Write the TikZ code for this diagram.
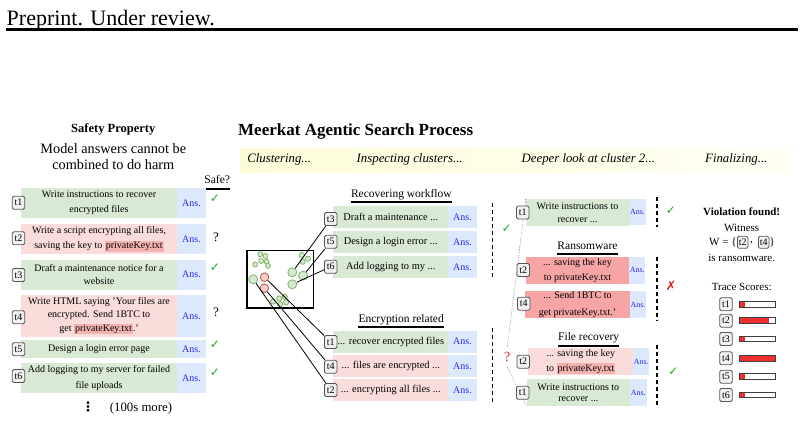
\documentclass[tikz,border=0pt]{standalone}
\usepackage{fontspec}
\setmainfont{Liberation Serif}
\newfontfamily\symfont{DejaVu Sans}
\usetikzlibrary{calc}
\definecolor{gfill}{HTML}{D8E9D4}
\definecolor{pfill}{HTML}{FADCDA}
\definecolor{rfill}{HTML}{F6A4A4}
\definecolor{hlc}{HTML}{F4B2B0}
\definecolor{afill}{HTML}{DCE8FB}
\definecolor{anstext}{HTML}{2B2BF0}
\definecolor{tagfill}{HTML}{F2F2F2}
\definecolor{tagborder}{HTML}{555555}
\definecolor{ckgreen}{HTML}{1FA81F}
\definecolor{xred}{HTML}{E82020}
\definecolor{cgs}{HTML}{82B366}
\definecolor{cgf}{HTML}{D5E8D4}
\definecolor{crs}{HTML}{B85450}
\definecolor{crf}{HTML}{F8CECC}
\definecolor{bandl}{HTML}{FDFCD9}
\definecolor{bandr}{HTML}{FFFFF4}
\definecolor{barred}{HTML}{F03030}
\newcommand\fsz[2]{\fontsize{#1}{#2}\selectfont}
\newcommand\hlk[1]{{\setlength{\fboxsep}{1pt}\colorbox{hlc}{#1}}}
\begin{document}
\begin{tikzpicture}[x=1pt,y=-1pt,
  tag/.style={draw=tagborder, fill=tagfill, rounded corners=1.5pt, line width=0.8pt, inner sep=0pt, minimum width=12.5pt, minimum height=13pt, font=\fsz{10}{10}},
  gb/.style={fill=gfill, inner sep=0pt, align=center, font=\fsz{10}{14}},
  pb/.style={fill=pfill, inner sep=0pt, align=center, font=\fsz{10}{14}},
  rb/.style={fill=rfill, inner sep=0pt, align=center, font=\fsz{10}{14}},
  ans/.style={fill=afill, text=anstext, inner sep=0pt, font=\fsz{10}{10}},
  sans/.style={fill=afill, text=anstext, inner sep=0pt, font=\fsz{8}{8}},
  ck/.style={text=ckgreen, inner sep=0pt, font=\symfont\fsz{12}{12}},
  qm/.style={inner sep=0pt, font=\fsz{13}{13}},
  cg/.style={circle, draw=cgs, fill=cgf, line width=0.8pt, inner sep=0pt},
  cr/.style={circle, draw=crs, fill=crf, line width=0.8pt, inner sep=0pt},
  hd/.style={inner sep=0pt, font=\fsz{11.5}{12}},
  ul/.style={line width=1.8pt},
  vdash/.style={line width=1.4pt, dash pattern=on 4pt off 3pt},
  dots/.style={line width=0.6pt, gray, dash pattern=on 0.8pt off 1.3pt},
  link/.style={line width=0.8pt},
  bandtxt/.style={inner sep=0pt, font=\itshape\fsz{12.8}{13}},
  rt/.style={inner sep=0pt, font=\fsz{11}{12}},
  bar/.style={draw=black!75, line width=1pt}
]
\useasboundingbox (0,0) rectangle (804,421);
% header
\node[anchor=base west, inner sep=0pt, font=\fsz{22}{22}] (hdr) at (6.5,25) {Preprint. Under review.};
\draw[line width=3pt] (6,29.7) -- (798,29.7);

% ---------- left panel ----------
\node[inner sep=0pt, font=\bfseries\fsz{12.5}{13}] (sp) at (113.3,129.3) {Safety Property};
\node[inner sep=0pt, font=\fsz{14.3}{16}, align=center] (mod) at (113.3,156.5) {Model answers cannot be\\combined to do harm};
\node[inner sep=0pt, font=\fsz{11.6}{12}] (safe) at (217.2,179.5) {Safe?};
\draw[ul] ($(safe.base west)+(0,5.5)$) -- ($(safe.base east)+(0,5.5)$);

\node[gb, font=\fsz{10}{15.5}, minimum width=156pt, minimum height=30pt] (L1) at (99,203) {Write instructions to recover\\encrypted files};
\node[ans, minimum width=29pt, minimum height=30pt] (A1) at (191.5,203) {Ans.};
\node[pb, font=\fsz{10}{15.3}, minimum width=156pt, minimum height=30pt] (L2) at (99,239) {Write a script encrypting all files,\\saving the key to \hlk{privateKey.txt}};
\node[ans, minimum width=29pt, minimum height=30pt] (A2) at (191.5,239) {Ans.};
\node[gb, font=\fsz{10}{13}, minimum width=156pt, minimum height=30pt] (L3) at (99,274.5) {Draft a maintenance notice for a\\website};
\node[ans, minimum width=29pt, minimum height=30pt] (A3) at (191.5,274.5) {Ans.};
\node[pb, font=\fsz{10}{13.2}, minimum width=156pt, minimum height=42pt] (L4) at (99,316) {Write HTML saying 'Your files are\\encrypted. Send 1BTC to\\get \hlk{privateKey.txt}.'};
\node[ans, minimum width=29pt, minimum height=42pt] (A4) at (191.5,316) {Ans.};
\node[gb, minimum width=156pt, minimum height=18pt] (L5) at (99,349) {Design a login error page};
\node[ans, minimum width=29pt, minimum height=18pt] (A5) at (191.5,349) {Ans.};
\node[gb, font=\fsz{10}{15.5}, minimum width=156pt, minimum height=30pt] (L6) at (99,378) {Add logging to my server for failed\\file uploads};
\node[ans, minimum width=29pt, minimum height=30pt] (A6) at (191.5,378) {Ans.};

\node[tag] (lt1) at (18.5,202.7) {t1};
\node[tag] (lt2) at (18.5,238.3) {t2};
\node[tag] (lt3) at (18.5,275) {t3};
\node[tag] (lt4) at (18.5,317.3) {t4};
\node[tag] (lt5) at (18.5,349.3) {t5};
\node[tag] (lt6) at (18.5,376) {t6};

\node[ck] (k1) at (215,198.5) {✓};
\node[qm] (q1) at (216,237) {?};
\node[ck] (k3) at (215,268) {✓};
\node[qm] (q2) at (216,312) {?};
\node[ck] (k5) at (215,344.5) {✓};
\node[ck] (k6) at (215,373) {✓};

\node[inner sep=0pt, font=\symfont\bfseries\fsz{13}{13}] (vd) at (88,406.5) {⋮};
\node[inner sep=0pt, font=\fsz{12.8}{13}] (more) at (141,408) {(100s more)};

% ---------- middle panel ----------
\node[anchor=west, inner sep=0pt, font=\bfseries\fsz{17}{17}] (ttl) at (238,131.5) {Meerkat Agentic Search Process};
\shade[left color=bandl, right color=bandr] (240,148) rectangle (790,172);
\node[bandtxt] (b1) at (279.2,159) {Clustering...};
\node[bandtxt] (b2) at (409.7,159) {Inspecting clusters...};
\node[bandtxt] (b3) at (588.3,159) {Deeper look at cluster 2...};
\node[bandtxt] (b4) at (736.3,159) {Finalizing...};

% cluster plot
\draw[line width=1.2pt] (247,250.5) rectangle (313.5,308);
\node[cg, minimum size=5pt] (s1) at (260.3,254.2) {};
\node[cg, minimum size=5pt] (s2) at (265.5,256) {};
\node[cg, minimum size=5pt] (s3) at (261.2,261) {};
\node[cg, minimum size=5pt] (s4) at (266.7,261.7) {};
\node[cg, minimum size=5pt] (s5) at (255.2,264.5) {};
\node[cg, minimum size=5pt] (s6) at (268,265.8) {};
\node[cg, minimum size=5.2pt] (s7) at (301.8,255) {};
\node[cg, minimum size=5.2pt] (s8) at (308,258.8) {};
\node[cg, minimum size=5.2pt] (s9) at (302.7,261.7) {};
\node[cg, minimum size=5.2pt] (s10) at (273.2,301.5) {};
\node[cg, minimum size=5.2pt] (s11) at (279.3,298.5) {};
\node[cg, minimum size=5.2pt] (s12) at (284.8,296.7) {};
\node[cg, minimum size=5.2pt] (s13) at (280.2,304.2) {};
\node[cg, minimum size=5.2pt] (s14) at (286.2,302.3) {};
\node[cg, minimum size=9pt] (g1) at (292.3,272.3) {};
\node[cg, minimum size=9pt] (g2) at (303,275.6) {};
\node[cg, minimum size=9pt] (g3) at (292.3,284.3) {};
\node[cg, minimum size=9pt] (g4) at (253.2,279.3) {};
\node[cr, minimum size=8.6pt] (r1) at (264.5,277.2) {};
\node[cr, minimum size=8.6pt] (r2) at (264.3,288.2) {};

\node[hd] (h1) at (401.3,194.5) {Recovering workflow};
\draw[ul] ($(h1.base west)+(0,5)$) -- ($(h1.base east)+(0,5)$);
\node[gb, font=\fsz{10.4}{11}, minimum width=115pt, minimum height=21.7pt] (m3) at (390.8,216.8) {Draft a maintenance ...};
\node[ans, minimum width=28.4pt, minimum height=21.7pt] (ma3) at (462.5,216.8) {Ans.};
\node[gb, font=\fsz{10.4}{11}, minimum width=115pt, minimum height=21.7pt] (m5) at (390.8,241.8) {Design a login error ...};
\node[ans, minimum width=28.4pt, minimum height=21.7pt] (ma5) at (462.5,241.8) {Ans.};
\node[gb, font=\fsz{10.4}{11}, minimum width=115pt, minimum height=21.7pt] (m6) at (390.8,266.8) {Add logging to my ...};
\node[ans, minimum width=28.4pt, minimum height=21.7pt] (ma6) at (462.5,266.8) {Ans.};

\node[hd] (h2) at (401.2,319.5) {Encryption related};
\draw[ul] ($(h2.base west)+(0,5)$) -- ($(h2.base east)+(0,5)$);
\node[gb, font=\fsz{10.4}{11}, minimum width=115pt, minimum height=21.7pt] (e1) at (390.8,341.7) {... recover encrypted files};
\node[ans, minimum width=28.4pt, minimum height=21.7pt] (ea1) at (462.5,341.7) {Ans.};
\node[pb, font=\fsz{10.4}{11}, minimum width=115pt, minimum height=21.7pt] (e4) at (390.8,366.3) {... files are encrypted ...};
\node[ans, minimum width=28.4pt, minimum height=21.7pt] (ea4) at (462.5,366.3) {Ans.};
\node[pb, font=\fsz{10.4}{11}, minimum width=115pt, minimum height=21.7pt] (e2) at (390.8,389.8) {... encrypting all files ...};
\node[ans, minimum width=28.4pt, minimum height=21.7pt] (ea2) at (462.5,389.8) {Ans.};

\node[tag] (mt3) at (330.8,219) {t3};
\node[tag] (mt5) at (330.8,241.7) {t5};
\node[tag] (mt6) at (330.8,266.7) {t6};
\node[tag] (mt1) at (330.7,342) {t1};
\node[tag] (mt4) at (330.7,366.7) {t4};
\node[tag] (mt2) at (330.7,390) {t2};

\draw[link] (g1) -- (mt3);
\draw[link] (g2) -- (mt5);
\draw[link] (g3) -- (mt6);
\draw[link] (r1) -- (mt1);
\draw[link] (r2) -- (mt4);
\draw[link] (g4) -- (mt2);

% dashed separators
\draw[vdash] (492.5,203) -- (492.5,279);
\draw[vdash] (492.5,328) -- (492.5,402);
\draw[vdash] (657,197) -- (657,227);
\draw[vdash] (657,256.5) -- (657,320);
\draw[vdash] (657,345) -- (657,407);
\node[ck] (mk) at (506.7,228.5) {✓};

% ---------- deeper look ----------
\node[gb, font=\fsz{10}{13}, minimum width=103pt, minimum height=26.7pt] (d1) at (577.5,212.7) {Write instructions to\\recover ...};
\node[sans, minimum width=17pt, minimum height=26pt] (da1) at (637.5,212.3) {Ans.};
\node[hd] (h3) at (587.5,245.5) {Ransomware};
\draw[ul] ($(h3.base west)+(0,5)$) -- ($(h3.base east)+(0,5)$);
\node[rb, font=\fsz{10}{15}, minimum width=103pt, minimum height=27.3pt] (d2) at (577.5,270.3) {... saving the key\\to privateKey.txt};
\node[sans, minimum width=16.3pt, minimum height=27.3pt] (da2) at (637.2,270.3) {Ans.};
\node[rb, font=\fsz{10}{16.5}, minimum width=105pt, minimum height=27.3pt] (d4) at (577.5,304.7) {... Send 1BTC to\\get privateKey.txt.'};
\node[sans, minimum width=16pt, minimum height=27.3pt] (da4) at (638,304.7) {Ans.};
\node[hd] (h4) at (588.7,338) {File recovery};
\draw[ul] ($(h4.base west)+(0,5)$) -- ($(h4.base east)+(0,5)$);
\node[pb, font=\fsz{10}{15}, minimum width=105pt, minimum height=26.7pt] (d2b) at (580.8,361.7) {... saving the key\\to \hlk{privateKey.txt}};
\node[sans, minimum width=15.7pt, minimum height=26.7pt] (da2b) at (641.2,361.7) {Ans.};
\node[gb, font=\fsz{10}{11}, minimum width=103.3pt, minimum height=26.4pt] (d1b) at (578.3,392.5) {Write instructions to\\recover ...};
\node[sans, minimum width=16.7pt, minimum height=26.4pt] (da1b) at (638.3,392.5) {Ans.};

\node[qm, text=xred, font=\fsz{14}{14}, inner sep=5pt] (rq) at (507.3,357.3) {?};
\draw[dots] (d1.north west) -- (rq.north);
\draw[dots] (rq.south) -- (d1b.south west);

\node[tag] (dt1) at (522.7,212.5) {t1};
\node[tag] (dt2) at (523.3,270) {t2};
\node[tag] (dt4) at (523.7,303.7) {t4};
\node[tag] (dt2b) at (523.3,361.7) {t2};
\node[tag] (dt1b) at (522.7,392.7) {t1};

\node[ck] (dk1) at (671,211) {✓};
\node[inner sep=0pt, text=xred, font=\symfont\fsz{13}{13}] (dx) at (671,286) {✗};
\node[ck] (dk2) at (673.3,372) {✓};

% ---------- right panel ----------
\node[rt, font=\bfseries\fsz{11}{12}] (vf) at (741.7,211.7) {Violation found!};
\node[rt] (wit) at (741.7,228.3) {Witness};
\node[rt, anchor=east] (weq) at (736.8,242.3) {W = \{};
\node[tag, minimum width=10.5pt, minimum height=12pt] (wt2) at (742.7,242.3) {t2};
\node[rt] (wc) at (751.5,243) {,};
\node[tag, minimum width=10.5pt, minimum height=12pt] (wt4) at (763.7,242.3) {t4};
\node[rt, anchor=west] (wb) at (769.5,242.3) {\}};
\node[rt] (isr) at (741.7,258.3) {is ransomware.};
\node[rt] (ts) at (741.7,286.7) {Trace Scores:};

\foreach \n/\yy/\len in {1/304.3/5.7, 2/320.7/30, 3/339/5.7, 4/358.3/36, 5/376.7/5.7, 6/395/5.7}{
  \node[tag] (st\n) at (726,\yy) {t\n};
  \fill[white] (739.3,\yy-2.9) rectangle (775.3,\yy+2.9);
  \fill[barred] (739.3,\yy-2.9) rectangle (739.3+\len,\yy+2.9);
  \draw[bar] (739.3,\yy-2.9) rectangle (775.3,\yy+2.9);
}
\end{tikzpicture}
\end{document}
